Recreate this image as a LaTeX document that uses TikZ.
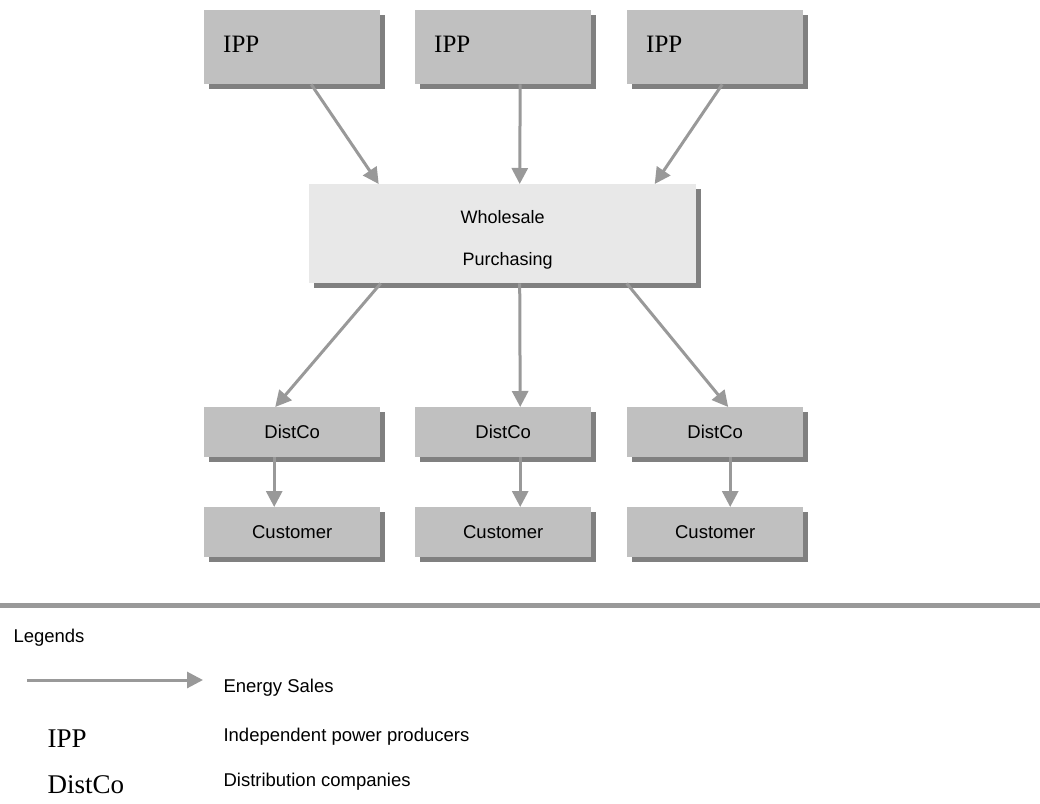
\documentclass[tikz,border=0pt]{standalone}
\usepackage{fontspec}
\setmainfont{Liberation Serif}
\setsansfont{Liberation Sans}
\usetikzlibrary{arrows.meta,shadows}

\definecolor{boxgray}{HTML}{C0C0C0}
\definecolor{lightbox}{HTML}{E8E8E8}
\definecolor{shadowgray}{HTML}{808080}
\definecolor{arrowgray}{HTML}{999999}

\def \shadowShift {5pt}

\begin{document}
\begin{tikzpicture}[x=1pt, y=-1pt,
      box/.style={draw=none, fill=boxgray, inner sep=0pt, anchor=north west,
         drop shadow={shadow xshift=\shadowShift, shadow yshift=-\shadowShift,
            fill=shadowgray, opacity=1}},
      ippbox/.style={box, font=\fontsize{25}{28}\selectfont, align=left,
         inner xsep=19pt, text width=138pt, text height=42pt, text depth=32pt},
      smallbox/.style={box, font=\sffamily\fontsize{18.5}{22}\selectfont,
         minimum width=176pt, minimum height=50pt},
      sale/.style={draw=arrowgray, line width=3pt,
         -{Triangle[length=16pt, width=16pt]}},
      legtext/.style={anchor=west, font=\sffamily\fontsize{18.5}{22}\selectfont},
      legterm/.style={anchor=west, font=\fontsize{27}{30}\selectfont}
   ]

      \useasboundingbox (0,0) rectangle (1040,803);

      % producers
      \node[ippbox] (ipp1) at (204,10) {IPP};
      \node[ippbox] (ipp2) at (415,10) {IPP};
      \node[ippbox] (ipp3) at (627,10) {IPP};

      % wholesale
      \node[box, fill=lightbox, minimum width=387pt, minimum height=99pt,
         font=\sffamily\fontsize{18}{42}\selectfont, align=center]
         (whole) at (309,184) {\rule{0pt}{25pt}Wholesale\\\hspace{10pt}Purchasing};

      % distribution and customers
      \node[smallbox] (dist1) at (204,407) {DistCo};
      \node[smallbox] (dist2) at (415,407) {DistCo};
      \node[smallbox] (dist3) at (627,407) {DistCo};
      \node[smallbox] (cust1) at (204,507) {Customer};
      \node[smallbox] (cust2) at (415,507) {Customer};
      \node[smallbox] (cust3) at (627,507) {Customer};

      \draw[sale] ([xshift=19pt]ipp1.south) -- ([xshift=-124pt]whole.north);
      \draw[sale] ([xshift=17pt]ipp2.south) -- ([xshift=17pt]whole.north);
      \draw[sale] ([xshift=7pt]ipp3.south) -- ([xshift=152pt]whole.north);

      \draw[sale] ([xshift=-122pt]whole.south) -- ([xshift=-17pt]dist1.north);
      \draw[sale] ([xshift=17pt]whole.south) -- ([xshift=17pt]dist2.north);
      \draw[sale] ([xshift=124pt]whole.south) -- ([xshift=13pt]dist3.north);

      \draw[sale] ([xshift=-18pt]dist1.south) -- ([xshift=-18pt]cust1.north);
      \draw[sale] ([xshift=17pt]dist2.south) -- ([xshift=17pt]cust2.north);
      \draw[sale] ([xshift=15pt]dist3.south) -- ([xshift=15pt]cust3.north);

      % legend
      \draw[arrowgray, line width=5pt] (0,605.5) -- (1040,605.5);
      \node[legtext] (legends) at (10,638) {Legends};

      \coordinate (legA) at (27,680);
      \coordinate (legB) at (203,680);
      \draw[sale] (legA) -- (legB);
      \node[legtext] (sales) at (220,688) {Energy Sales};

      \node[legterm] (legipp) at (44,739) {IPP};
      \node[legtext] (ippdesc) at (220,737) {Independent power producers};
      \node[legterm] (legdist) at (44,785) {DistCo};
      \node[legtext] (distdesc) at (220,782) {Distribution companies};

   \end{tikzpicture}
\end{document}
